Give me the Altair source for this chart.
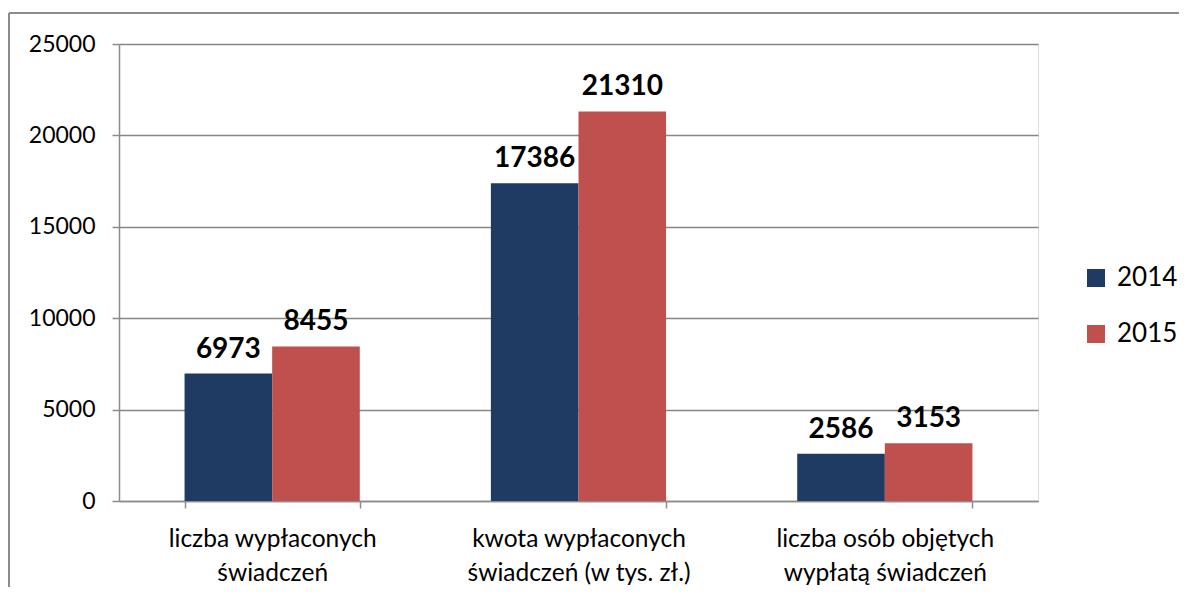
import altair as alt
import pandas as pd

categories = [
    "liczba wypłaconych|świadczeń",
    "kwota wypłaconych|świadczeń (w tys. zł.)",
    "liczba osób objętych|wypłatą świadczeń",
]
years = ["2014", "2015"]
values_2014 = [6973, 17386, 2586]
values_2015 = [8455, 21310, 3153]
colors = ["#1F3B63", "#C0504D"]
y_ticks = [0, 5000, 10000, 15000, 20000, 25000]

rows = []
for c, v in zip(categories, values_2014):
    rows.append({"kategoria": c, "rok": "2014", "wartosc": v})
for c, v in zip(categories, values_2015):
    rows.append({"kategoria": c, "rok": "2015", "wartosc": v})
df = pd.DataFrame(rows)

FONT = "Lato"
GRAY = "#8C8C8C"

x = alt.X(
    "kategoria:N",
    sort=categories,
    scale=alt.Scale(paddingInner=0.428, paddingOuter=0.214),
    axis=alt.Axis(
        title=None,
        labelAngle=0,
        tickBand="extent",
        labelExpr="split(datum.label, '|')",
        labelFontSize=24.5,
        labelFont=FONT,
        labelPadding=19,
        labelLineHeight=34,
        labelLimit=0,
        labelColor="black",
        domainColor=GRAY,
        tickColor=GRAY,
        tickSize=7,
        domainWidth=1.5,
        tickWidth=1.5,
        grid=False,
    ),
)
xo = alt.XOffset("rok:N", sort=years, scale=alt.Scale(paddingInner=0, paddingOuter=0))
y = alt.Y(
    "wartosc:Q",
    scale=alt.Scale(domain=[0, 25000], nice=False),
    axis=alt.Axis(
        title=None,
        values=y_ticks,
        format="d",
        labelFontSize=23,
        labelFont=FONT,
        labelPadding=17,
        labelColor="black",
        tickSize=7,
        tickColor=GRAY,
        domainColor=GRAY,
        gridColor="#868686",
        domainWidth=1.5,
        tickWidth=1.5,
        gridWidth=1.3,
        grid=True,
    ),
)

bars = alt.Chart(df).mark_bar().encode(
    x=x,
    xOffset=xo,
    y=y,
    color=alt.Color(
        "rok:N",
        scale=alt.Scale(domain=years, range=colors),
        legend=alt.Legend(
            title=None,
            orient="none",
            legendX=964,
            legendY=221,
            symbolType="square",
            symbolSize=324,
            symbolStrokeWidth=0,
            labelFontSize=26,
            labelFont=FONT,
            labelColor="black",
            labelOffset=8,
            rowPadding=30,
        ),
    ),
)

labels = alt.Chart(df).mark_text(
    font=FONT, fontSize=28, fontWeight="bold", baseline="bottom", dy=-10, color="black"
).encode(x=x, xOffset=xo, y=y, text="wartosc:Q")

border_df = pd.DataFrame({"a": [0]})
left_border = alt.Chart(border_df).mark_rule(color=GRAY, strokeWidth=2, clip=False).encode(
    x=alt.value(-110), y=alt.value(-31), y2=alt.value(700)
)
top_border = alt.Chart(border_df).mark_rule(color=GRAY, strokeWidth=2, clip=False).encode(
    x=alt.value(-110), x2=alt.value(1200), y=alt.value(-31)
)

chart = (
    alt.layer(bars, labels, left_border, top_border)
    .properties(
        width=919,
        height=457,
        autosize=alt.AutoSizeParams(type="none"),
        padding={"left": 111, "top": 36, "right": 141, "bottom": 86},
    )
    .configure_view(stroke=None)
    .configure(background="white")
)

chart.save("out.html", embed_options={"renderer": "svg", "actions": False})
